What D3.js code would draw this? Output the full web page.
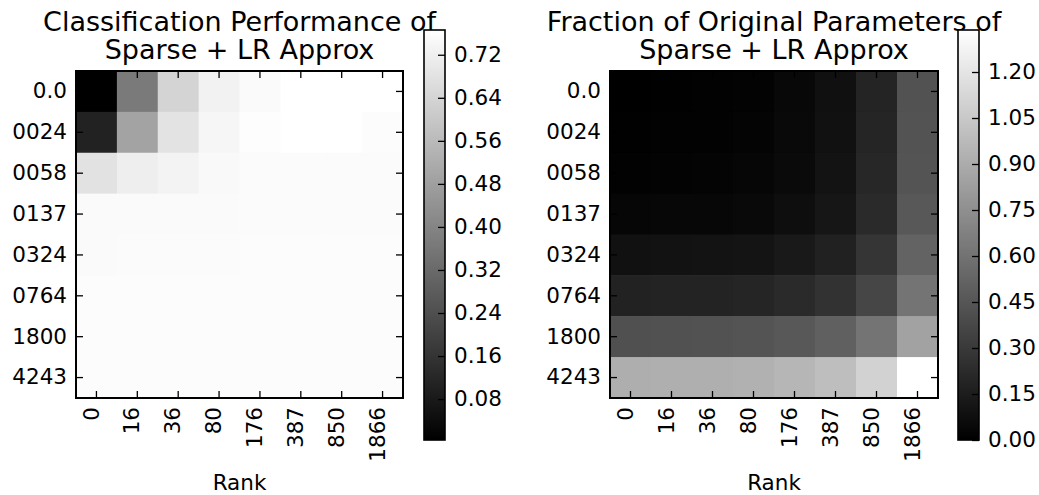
<!DOCTYPE html>
<html>
<head>
<meta charset="utf-8">
<script src="https://cdn.jsdelivr.net/npm/d3@7"></script>
<style>
  body { margin: 0; background: #fff; }
  svg { display: block; font-family: "DejaVu Sans", sans-serif; }
</style>
</head>
<body>
<svg id="chart" width="1039" height="495"></svg>
<script>
// sparse sizes (rows) and ranks (cols)
const sparseLabels = ["0.0", "0024", "0058", "0137", "0324", "0764", "1800", "4243"]
const rankLabels = ["0", "16", "36", "80", "176", "387", "850", "1866"]

// classification accuracy
const accuracy = [
  [0.004, 0.369, 0.637, 0.727, 0.751, 0.766, 0.766, 0.766],
  [0.106, 0.491, 0.682, 0.739, 0.760, 0.766, 0.766, 0.757],
  [0.679, 0.715, 0.730, 0.748, 0.754, 0.754, 0.754, 0.754],
  [0.750, 0.750, 0.752, 0.752, 0.753, 0.753, 0.753, 0.755],
  [0.752, 0.755, 0.755, 0.755, 0.756, 0.756, 0.756, 0.756],
  [0.757, 0.757, 0.758, 0.758, 0.758, 0.758, 0.758, 0.758],
  [0.758, 0.758, 0.758, 0.758, 0.758, 0.758, 0.757, 0.757],
  [0.757, 0.757, 0.757, 0.757, 0.756, 0.756, 0.756, 0.756]
]

// fraction of original parameters
const paramFraction = [
  [0.000, 0.004, 0.008, 0.018, 0.040, 0.085, 0.190, 0.430],
  [0.005, 0.009, 0.013, 0.023, 0.045, 0.090, 0.195, 0.435],
  [0.013, 0.017, 0.021, 0.031, 0.053, 0.098, 0.203, 0.443],
  [0.031, 0.035, 0.039, 0.049, 0.071, 0.116, 0.221, 0.461],
  [0.089, 0.093, 0.097, 0.107, 0.129, 0.174, 0.279, 0.519],
  [0.178, 0.182, 0.186, 0.196, 0.218, 0.263, 0.368, 0.608],
  [0.420, 0.424, 0.428, 0.438, 0.460, 0.505, 0.610, 0.850],
  [0.912, 0.916, 0.920, 0.930, 0.952, 0.997, 1.102, 1.337]
]

const accTicks = [0.08, 0.16, 0.24, 0.32, 0.40, 0.48, 0.56, 0.64, 0.72]
const fracTicks = [0.00, 0.15, 0.30, 0.45, 0.60, 0.75, 0.90, 1.05, 1.20]

const svg = d3.select("#chart")

let gradient = svg.append("defs").append("linearGradient")
  .attr("id", "grey")
  .attr("x1", 0).attr("y1", 1).attr("x2", 0).attr("y2", 0)
gradient.append("stop").attr("offset", "0%").attr("stop-color", "#000")
gradient.append("stop").attr("offset", "100%").attr("stop-color", "#fff")

const styleAxis = g => {
  g.select(".domain").remove()
  g.selectAll(".tick line").attr("stroke", "#000").attr("stroke-width", 1.3)
  g.attr("font-family", "DejaVu Sans, sans-serif").attr("font-size", 21.5)
  g.selectAll(".tick text").attr("fill", "#000")
}

const drawPanel = ({ data, titleLines, ticks, left, right, barLeft }) => {
  let top = 71, bottom = 398
  let x = d3.scaleBand().domain(rankLabels).range([left, right])
  let y = d3.scaleBand().domain(sparseLabels).range([top, bottom])
  let [lo, hi] = d3.extent(data.flat())
  let color = d3.scaleLinear().domain([lo, hi]).range(["#000", "#fff"])

  let cells = data.flatMap((row, i) => row.map((v, j) => ({ r: sparseLabels[i], c: rankLabels[j], v })))
  svg.append("g")
    .selectAll("rect")
    .data(cells)
    .enter()
    .append("rect")
    .attr("x", d => x(d.c))
    .attr("y", d => y(d.r))
    .attr("width", x.bandwidth() + 0.5)
    .attr("height", y.bandwidth() + 0.5)
    .attr("fill", d => color(d.v))

  // ticks on all four sides, pointing in
  svg.append("g")
    .attr("transform", `translate(0,${bottom})`)
    .call(d3.axisBottom(x).tickSize(-7).tickPadding(0))
    .call(styleAxis)
    .call(g => g.selectAll(".tick text")
      .attr("transform", "rotate(-90)")
      .attr("x", -9)
      .attr("y", 0)
      .attr("dy", "0.1em")
      .attr("text-anchor", "end"))
  svg.append("g")
    .attr("transform", `translate(0,${top})`)
    .call(d3.axisTop(x).tickSize(-7).tickFormat(""))
    .call(styleAxis)
  svg.append("g")
    .attr("transform", `translate(${left},0)`)
    .call(d3.axisLeft(y).tickSize(-7).tickPadding(9))
    .call(styleAxis)
  svg.append("g")
    .attr("transform", `translate(${right},0)`)
    .call(d3.axisRight(y).tickSize(-7).tickFormat(""))
    .call(styleAxis)

  svg.append("rect")
    .attr("x", left).attr("y", top)
    .attr("width", right - left).attr("height", bottom - top)
    .attr("fill", "none").attr("stroke", "#000").attr("stroke-width", 2)

  let cx = (left + right) / 2
  svg.append("text")
    .attr("x", cx).attr("y", 490)
    .attr("text-anchor", "middle")
    .attr("font-size", 21.5)
    .text("Rank")

  svg.append("g")
    .selectAll("text")
    .data(titleLines)
    .enter()
    .append("text")
    .attr("x", cx)
    .attr("y", (d, i) => 31 + i * 28)
    .attr("text-anchor", "middle")
    .attr("font-size", 27)
    .text(d => d)

  // colorbar
  let barTop = 30, barBottom = 440, barW = 21
  let cScale = d3.scaleLinear().domain([lo, hi]).range([barBottom, barTop])
  svg.append("rect")
    .attr("x", barLeft).attr("y", barTop)
    .attr("width", barW).attr("height", barBottom - barTop)
    .attr("fill", "url(#grey)")
  svg.append("g")
    .attr("transform", `translate(${barLeft + barW},0)`)
    .call(d3.axisRight(cScale).tickValues(ticks).tickFormat(d3.format(".2f")).tickSize(-7).tickPadding(9))
    .call(styleAxis)
  svg.append("rect")
    .attr("x", barLeft).attr("y", barTop)
    .attr("width", barW).attr("height", barBottom - barTop)
    .attr("fill", "none").attr("stroke", "#000").attr("stroke-width", 1.6)
}

drawPanel({
  data: accuracy,
  titleLines: ["Classification Performance of", "Sparse + LR Approx"],
  ticks: accTicks,
  left: 76, right: 403, barLeft: 424
})

drawPanel({
  data: paramFraction,
  titleLines: ["Fraction of Original Parameters of", "Sparse + LR Approx"],
  ticks: fracTicks,
  left: 610, right: 938, barLeft: 958
})
</script>
</body>
</html>
